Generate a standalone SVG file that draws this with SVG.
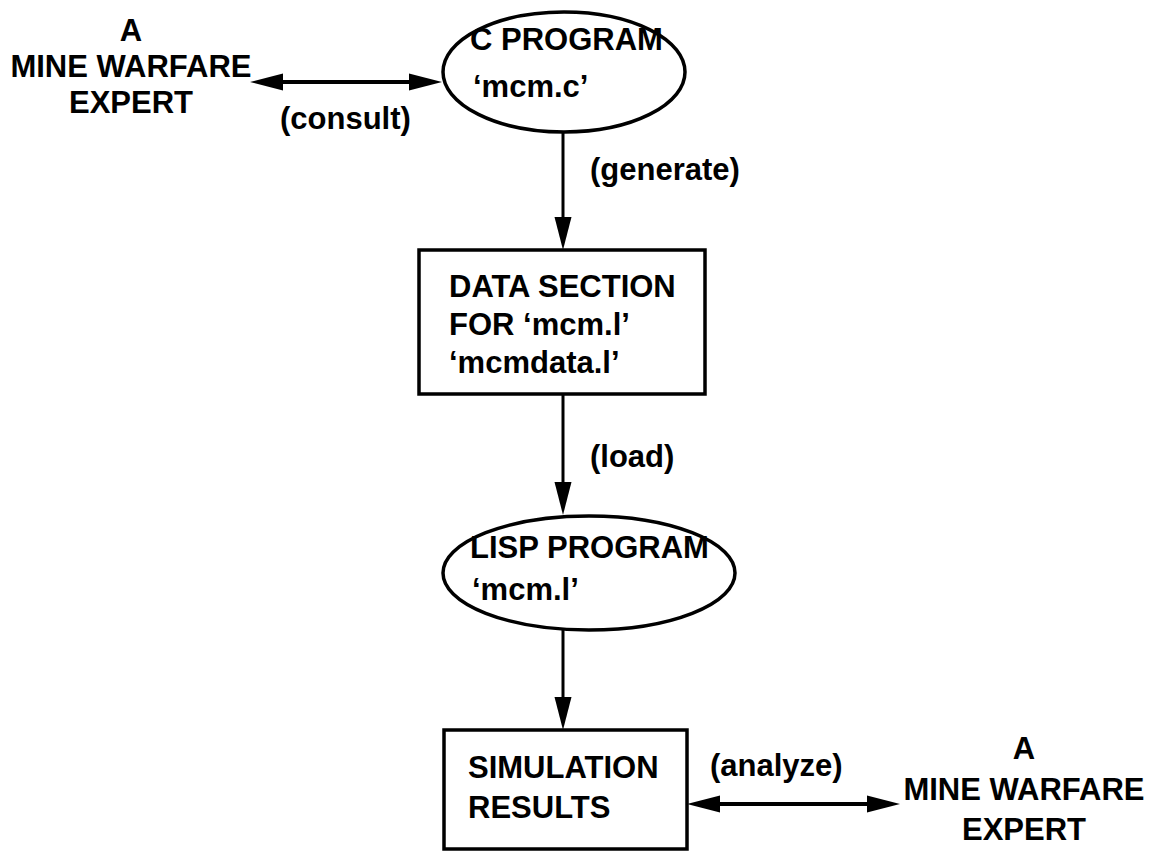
<svg xmlns="http://www.w3.org/2000/svg" width="1152" height="851" viewBox="0 0 1152 851">
<style>
text{font-family:"Liberation Sans",Arial,Helvetica,sans-serif;font-size:31px;font-weight:bold;fill:#000}
.c{text-anchor:middle}
.shape{fill:#fff;stroke:#000;stroke-width:3.5}
.conn{fill:none;stroke:#000}
.h{stroke-width:4}
.v{stroke-width:3}
</style>
<defs>
<marker id="ah" markerUnits="userSpaceOnUse" markerWidth="34" markerHeight="18" viewBox="0 0 34 18" refX="10" refY="9" orient="auto-start-reverse">
<path d="M0,0.5 L33,9 L0,17.5 z" fill="#000"/>
</marker>
</defs>
<rect width="1152" height="851" fill="#fff"/>
<g id="connectors">
<line class="conn h" x1="273" y1="82" x2="419" y2="82" marker-start="url(#ah)" marker-end="url(#ah)"/>
<line class="conn v" x1="563" y1="132" x2="563" y2="227" marker-end="url(#ah)"/>
<line class="conn v" x1="563" y1="394" x2="563" y2="492" marker-end="url(#ah)"/>
<line class="conn v" x1="563" y1="629" x2="563" y2="707" marker-end="url(#ah)"/>
<line class="conn h" x1="710" y1="804" x2="877" y2="804" marker-start="url(#ah)" marker-end="url(#ah)"/>
<text x="280" y="129">(consult)</text>
<text x="590" y="180">(generate)</text>
<text x="590" y="467">(load)</text>
<text x="710" y="776">(analyze)</text>
</g>
<g id="expert-top">
<text class="c" x="131" y="41">A</text>
<text class="c" x="131" y="77">MINE WARFARE</text>
<text class="c" x="131" y="113">EXPERT</text>
</g>
<g id="c-program">
<ellipse class="shape" cx="564" cy="72" rx="121" ry="60"/>
<text x="470" y="50">C PROGRAM</text>
<text x="473" y="97">‘mcm.c’</text>
</g>
<g id="data-section">
<rect class="shape" x="419" y="250" width="286" height="144"/>
<text x="449" y="297">DATA SECTION</text>
<text x="449" y="335">FOR ‘mcm.l’</text>
<text x="449" y="373">‘mcmdata.l’</text>
</g>
<g id="lisp-program">
<ellipse class="shape" cx="589" cy="573" rx="146" ry="57"/>
<text x="470" y="558">LISP PROGRAM</text>
<text x="472" y="600">‘mcm.l’</text>
</g>
<g id="simulation-results">
<rect class="shape" x="444" y="730" width="243" height="119"/>
<text x="468" y="778">SIMULATION</text>
<text x="468" y="818">RESULTS</text>
</g>
<g id="expert-bottom">
<text class="c" x="1024" y="759">A</text>
<text class="c" x="1024" y="800">MINE WARFARE</text>
<text class="c" x="1024" y="840">EXPERT</text>
</g>
</svg>
